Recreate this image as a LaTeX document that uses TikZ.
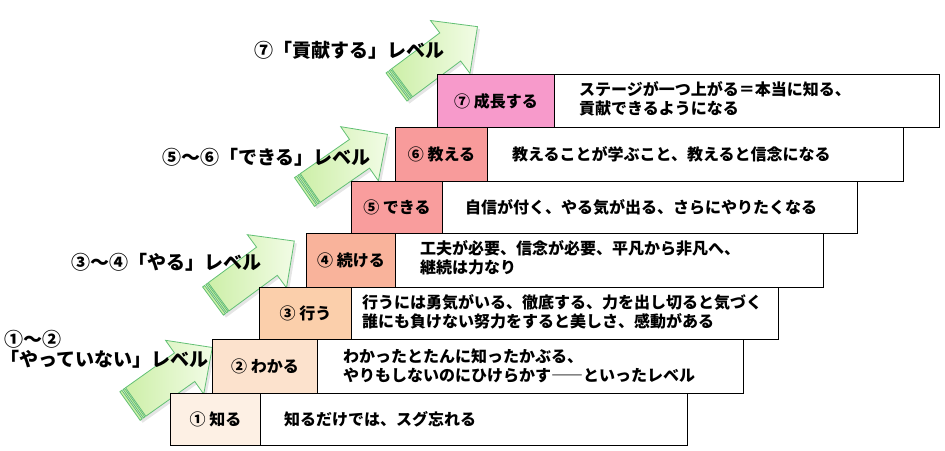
\documentclass[tikz,border=0pt]{standalone}
\usepackage{fontspec}
\newfontfamily\jp{Noto Sans CJK JP}
\definecolor{c1}{HTML}{FDF0E4}
\definecolor{c2}{HTML}{FCE2CD}
\definecolor{c3}{HTML}{FBCFAB}
\definecolor{c4}{HTML}{F9B39B}
\definecolor{c5}{HTML}{F99D9D}
\definecolor{c6}{HTML}{F89B9B}
\definecolor{c7}{HTML}{F79ACB}
\definecolor{agreenA}{HTML}{CDEFA8}
\definecolor{agreenB}{HTML}{F2FCE6}
\definecolor{aline}{HTML}{62C074}
\tikzset{
  boxlab/.style={draw=black, line width=0.9pt, inner sep=0pt, anchor=north west,
    font=\jp\bfseries\fontsize{16}{19}\selectfont},
  boxdesc/.style={draw=black, line width=0.9pt, fill=white, inner sep=0pt, anchor=north west},
  desctext/.style={anchor=west, inner sep=0pt, align=left,
    font=\jp\bfseries\fontsize{16}{19}\selectfont},
  headtext/.style={anchor=west, inner sep=0pt,
    font=\jp\bfseries\fontsize{19}{22}\selectfont},
  arrowline/.style={draw=aline, line width=0.8pt, line join=miter},
}
\begin{document}
\begin{tikzpicture}[x=1pt,y=-1pt]
\useasboundingbox[fill=white] (0,0) rectangle (945,450);

% green arrows
\foreach \ax/\ay/\aa in {396.5/87/36.7, 304.5/192/34.8, 213/301/36.4, 130/406/35.4}{
  \begin{scope}[shift={(\ax+2.5,\ay+2.5)}, rotate=\aa]
    \fill[black, opacity=0.10] (0,-17.5) -- (67,-17.5) -- (67,-33) -- (101,0) -- (67,33) -- (67,17.5) -- (0,17.5) -- cycle;
  \end{scope}
  \begin{scope}[shift={(\ax,\ay)}, rotate=\aa]
    \draw[arrowline, left color=agreenA, right color=agreenB]
      (7,-17.5) -- (67,-17.5) -- (67,-33) -- (101,0) -- (67,33) -- (67,17.5) -- (7,17.5) -- cycle;
    \draw[arrowline, fill=agreenA] (0,-17.5) rectangle (2.5,17.5);
    \draw[arrowline, fill=agreenA] (4,-17.5) rectangle (5.8,17.5);
  \end{scope}
}

% headings
\node[headtext] (h7) at (254,50) {⑦「貢献する」レベル};
\node[headtext] (h56) at (162,157) {⑤～⑥「できる」レベル};
\node[headtext] (h34) at (71,262) {③～④「やる」レベル};
\node[headtext] (h12a) at (4,339) {①～②};
\node[headtext] (h12b) at (0,359) {「やっていない」レベル};

% row 1
\node[boxlab, fill=c1, minimum width=90pt, minimum height=52pt] (l1) at (170,393) {① 知る};
\node[boxdesc, minimum width=427pt, minimum height=52pt] (d1) at (260,393) {};
\node[desctext] (t1) at (284,419) {知るだけでは、スグ忘れる};
% row 2
\node[boxlab, fill=c2, minimum width=105pt, minimum height=54pt] (l2) at (212,339) {② わかる};
\node[boxdesc, minimum width=426pt, minimum height=54pt] (d2) at (317,339) {};
\node[desctext] (t2) at (343,366) {わかったとたんに知ったかぶる、\\やりもしないのにひけらかす――といったレベル};
% row 3
\node[boxlab, fill=c3, minimum width=92pt, minimum height=52pt] (l3) at (259,287) {③ 行う};
\node[boxdesc, minimum width=427pt, minimum height=52pt] (d3) at (351,287) {};
\node[desctext] (t3) at (362,312) {行うには勇気がいる、徹底する、力を出し切ると気づく\\誰にも負けない努力をすると美しさ、感動がある};
% row 4
\node[boxlab, fill=c4, minimum width=89pt, minimum height=54pt] (l4) at (306,233) {④ 続ける};
\node[boxdesc, minimum width=428pt, minimum height=54pt] (d4) at (395,233) {};
\node[desctext] (t4) at (420,258) {工夫が必要、信念が必要、平凡から非凡へ、\\継続は力なり};
% row 5
\node[boxlab, fill=c5, minimum width=91pt, minimum height=52pt] (l5) at (351,181) {⑤ できる};
\node[boxdesc, minimum width=415pt, minimum height=52pt] (d5) at (442,181) {};
\node[desctext] (t5) at (465,207) {自信が付く、やる気が出る、さらにやりたくなる};
% row 6
\node[boxlab, fill=c6, minimum width=92pt, minimum height=54pt] (l6) at (395,127) {⑥ 教える};
\node[boxdesc, minimum width=416pt, minimum height=54pt] (d6) at (487,127) {};
\node[desctext] (t6) at (512,154) {教えることが学ぶこと、教えると信念になる};
% row 7
\node[boxlab, fill=c7, minimum width=117pt, minimum height=53pt] (l7) at (437,74) {⑦ 成長する};
\node[boxdesc, minimum width=385pt, minimum height=53pt] (d7) at (554,74) {};
\node[desctext] (t7) at (579,99) {ステージが一つ上がる＝本当に知る、\\貢献できるようになる};
\end{tikzpicture}
\end{document}
